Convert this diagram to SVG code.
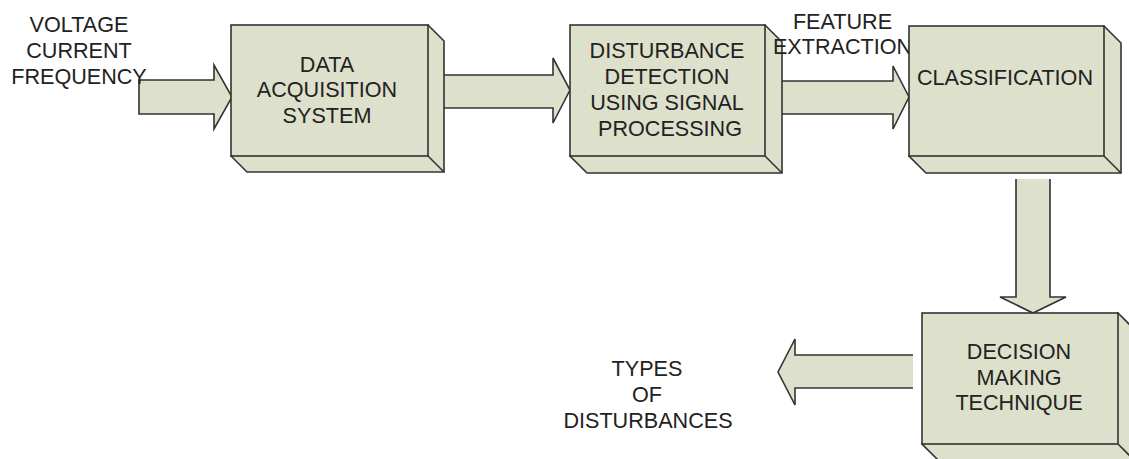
<svg xmlns="http://www.w3.org/2000/svg" width="1129" height="459" viewBox="0 0 1129 459">
<style>
.t{font-family:"Liberation Sans",Arial,sans-serif;font-size:21.6px;fill:#222;text-anchor:middle}
.f{fill:#dde0ca;stroke:#333;stroke-width:1.6;stroke-linejoin:miter}
.af{fill:#dde0ca;stroke:none}
.as{fill:none;stroke:#333;stroke-width:1.6}
</style>
<rect width="1129" height="459" fill="#fff"/>
<g id="connectors">
<polygon class="f" points="139,80 214,80 214,65 232,97 214,129 214,114 139,114"/>
<polygon class="f" points="441,75 553,75 553,58 570,90 553,123 553,108 441,108"/>
<polygon class="f" points="780,81 893,81 893,66 909,97 893,129 893,114 780,114"/>
<polygon class="af" points="1016,179 1016,297 1000,297 1033,313 1066,297 1050,297 1050,179"/>
<polyline class="as" points="1016,179 1016,297 1000,297 1033,313 1066,297 1050,297 1050,179"/>
<polygon class="af" points="913,355 795,355 795,339 778,372 795,405 795,388 913,388"/>
<polyline class="as" points="913,355 795,355 795,339 778,372 795,405 795,388 913,388"/>
</g>
<g id="input-label">
<text class="t" x="79" y="32">VOLTAGE</text>
<text class="t" x="79" y="58">CURRENT</text>
<text class="t" x="79" y="84">FREQUENCY</text>
</g>
<g id="data-acquisition">
<path class="f" d="M428,25 L444,41 L444,172 L247,172 L231,156 Z"/>
<path class="f" d="M428,156 L444,172"/>
<rect class="f" x="231" y="25" width="197" height="131"/>
<text class="t" x="327" y="72">DATA</text>
<text class="t" x="327" y="97">ACQUISITION</text>
<text class="t" x="327" y="123">SYSTEM</text>
</g>
<g id="disturbance-detection">
<path class="f" d="M765,25 L782,42 L782,173 L587,173 L570,156 Z"/>
<path class="f" d="M765,156 L782,173"/>
<rect class="f" x="570" y="25" width="195" height="131"/>
<text class="t" x="667" y="58">DISTURBANCE</text>
<text class="t" x="667" y="84">DETECTION</text>
<text class="t" x="667" y="110">USING SIGNAL</text>
<text class="t" x="670" y="136">PROCESSING</text>
</g>
<g id="feature-label">
<text class="t" x="842.5" y="29">FEATURE</text>
<text class="t" x="842.5" y="54">EXTRACTION</text>
</g>
<g id="classification">
<path class="f" d="M1104,26 L1121,43 L1121,173 L926,173 L909,156 Z"/>
<path class="f" d="M1104,156 L1121,173"/>
<rect class="f" x="909" y="26" width="195" height="130"/>
<text class="t" x="1005" y="85">CLASSIFICATION</text>
</g>
<g id="decision-making">
<path class="f" d="M1118,313 L1136,331 L1136,462 L940,462 L922,444 Z"/>
<path class="f" d="M1118,444 L1136,462"/>
<rect class="f" x="922" y="313" width="196" height="131"/>
<text class="t" x="1019" y="359">DECISION</text>
<text class="t" x="1019" y="385">MAKING</text>
<text class="t" x="1019" y="410">TECHNIQUE</text>
</g>
<g id="output-label">
<text class="t" x="647" y="376">TYPES</text>
<text class="t" x="647" y="402">OF</text>
<text class="t" x="648" y="428">DISTURBANCES</text>
</g>
</svg>
